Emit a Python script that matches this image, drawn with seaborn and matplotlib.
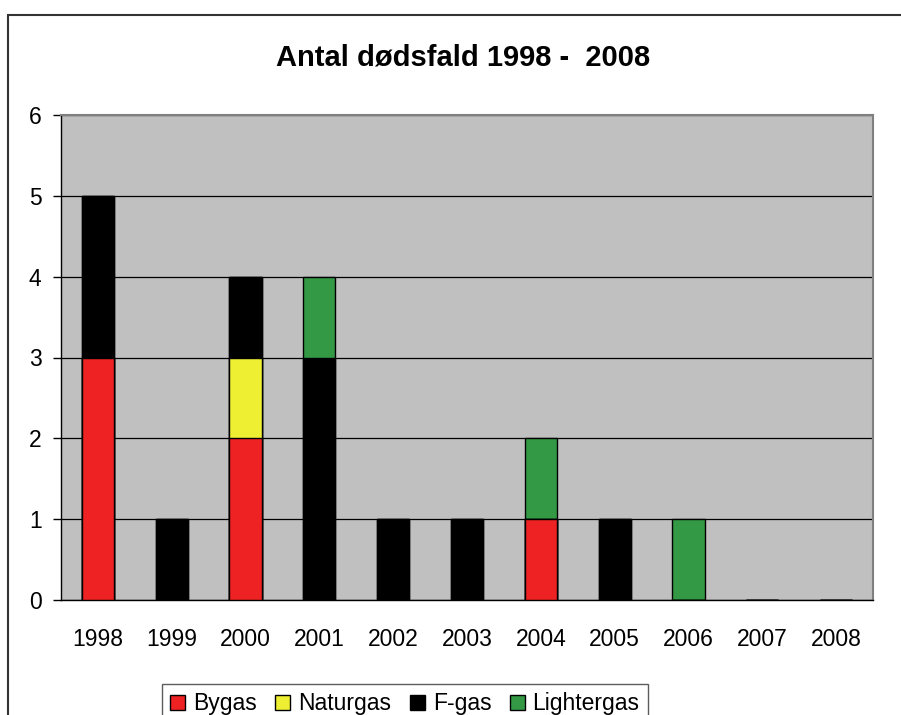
import numpy as np
import pandas as pd
import seaborn as sns
import matplotlib.pyplot as plt
from matplotlib.patches import Rectangle, Patch

# data
years = ["1998", "1999", "2000", "2001", "2002", "2003", "2004", "2005", "2006", "2007", "2008"]
bygas = [3, 0, 2, 0, 0, 0, 1, 0, 0, 0, 0]
naturgas = [0, 0, 1, 0, 0, 0, 0, 0, 0, 0, 0]
fgas = [2, 1, 1, 3, 1, 1, 0, 1, 0, 0, 0]
lightergas = [0, 0, 0, 1, 0, 0, 1, 0, 1, 0, 0]

series = ["Bygas", "Naturgas", "F-gas", "Lightergas"]
colors = ["#EE2222", "#EEEE33", "#000000", "#339944"]

df = pd.DataFrame({"year": years, "Bygas": bygas, "Naturgas": naturgas,
                   "F-gas": fgas, "Lightergas": lightergas})
cum = df[series].cumsum(axis=1)

sns.set_style("white")
plt.rcParams['font.family'] = ['Liberation Sans', 'DejaVu Sans']

fig = plt.figure(figsize=(9.01, 7.15), dpi=100)
ax = fig.add_axes([61 / 901, 1 - 600 / 715, (873 - 61) / 901, (600 - 115) / 715])
ax.set_facecolor("#C0C0C0")

# stacked bars: draw cumulative totals from the top series down
for name, col in reversed(list(zip(series, colors))):
    sns.barplot(x=df["year"], y=cum[name], color=col, order=years, width=0.435,
                edgecolor="black", linewidth=1, saturation=1, ax=ax, zorder=3)

ax.set_ylim(0, 6)
ax.set_xlim(-0.5, len(years) - 0.5)
ax.set_yticks(range(0, 7))
ax.yaxis.grid(True, color="black", linewidth=0.9, zorder=1)
ax.set_axisbelow(True)
ax.set_xlabel("")
ax.set_ylabel("")

ax.set_xticks(np.arange(len(years)))
ax.set_xticklabels(years)
ax.set_xticks(np.arange(len(years) + 1) - 0.5, minor=True)
ax.tick_params(axis="x", which="major", length=0, pad=20, labelsize=16.5, labelcolor="black")
ax.tick_params(axis="x", which="minor", length=5.5, width=1, color="black", direction="out")
ax.tick_params(axis="y", length=6, width=1, color="black", direction="out", pad=8, labelsize=16.5,
               labelcolor="black", left=True)

for s in ["top", "right"]:
    ax.spines[s].set_color("#808080")
    ax.spines[s].set_linewidth(1.5)
for s in ["left", "bottom"]:
    ax.spines[s].set_color("black")
    ax.spines[s].set_linewidth(1)

fig.text(463 / 901, 1 - 57 / 715, "Antal dødsfald 1998 -  2008", ha="center", va="center",
         fontsize=21, fontweight="bold", color="black")

# outer chart border
fig.patches.append(Rectangle((8 / 901, -0.1), 1.0, (715 - 15) / 715 + 0.1, transform=fig.transFigure,
                             fill=False, edgecolor="#333333", linewidth=1.5, clip_on=False))

handles = [Patch(facecolor=c, edgecolor="black", linewidth=1) for c in colors]
fig.legend(handles, series, loc="upper center", bbox_to_anchor=(405 / 901, 1 - 673 / 715),
           ncol=4, frameon=True, fancybox=False, edgecolor="#333333", fontsize=16.5,
           handlelength=0.65, handleheight=0.65, handletextpad=0.35, columnspacing=0.8,
           borderpad=0.35, labelcolor="black")

fig.savefig("out.png", dpi=100)
